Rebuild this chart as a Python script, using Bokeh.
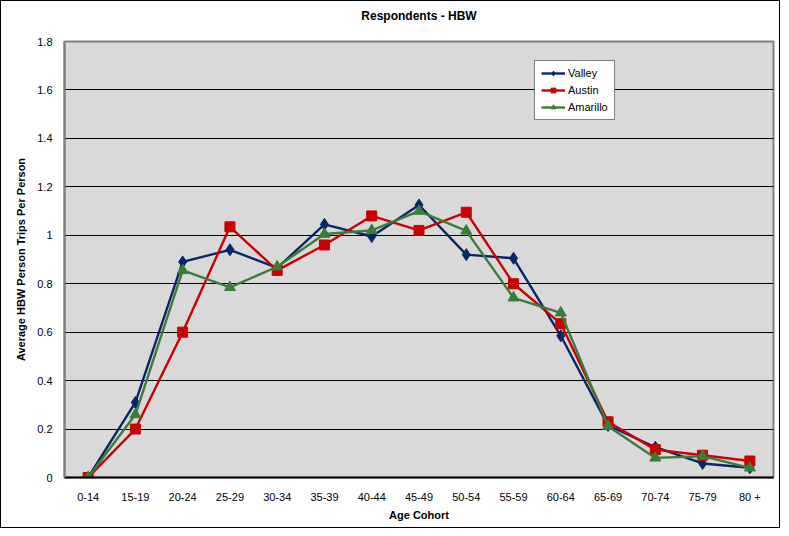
from bokeh.plotting import figure
from bokeh.embed import file_html
from bokeh.resources import INLINE
from bokeh.models import FixedTicker, Legend, LegendItem, CustomJSTickFormatter, Title

cohorts = ["0-14", "15-19", "20-24", "25-29", "30-34", "35-39", "40-44", "45-49",
           "50-54", "55-59", "60-64", "65-69", "70-74", "75-79", "80 +"]
valley = [0.0, 0.31, 0.89, 0.94, 0.865, 1.045, 0.995, 1.125, 0.92, 0.905, 0.585, 0.215, 0.125, 0.058, 0.04]
austin = [0.0, 0.20, 0.60, 1.035, 0.855, 0.96, 1.08, 1.02, 1.095, 0.80, 0.635, 0.23, 0.115, 0.092, 0.068]
amarillo = [0.0, 0.26, 0.855, 0.785, 0.87, 1.005, 1.02, 1.10, 1.018, 0.742, 0.68, 0.212, 0.081, 0.088, 0.04]
y_ticks = [0, 0.2, 0.4, 0.6, 0.8, 1.0, 1.2, 1.4, 1.6, 1.8]
title_text = "Respondents - HBW"

FONT = "Liberation Sans"
FW, FH = 709, 436

p = figure(x_range=cohorts, y_range=(0, 1.8), frame_width=FW, frame_height=FH,
           min_border_left=63, min_border_right=6, min_border_top=40, min_border_bottom=50,
           output_backend="svg", toolbar_location=None)
p.styles = {"border": "1px solid #000000", "box-sizing": "border-box"}

spacer = Title(text=" ", text_font=FONT, text_font_size="9px", align="center", standoff=2)
p.add_layout(spacer, "above")
main_title = Title(text=title_text, align="center", text_font=FONT, text_font_size="12px",
                   text_font_style="bold", text_color="#000000")
p.add_layout(main_title, "above")

p.background_fill_color = "#D9D9D9"
p.border_fill_color = "#FFFFFF"
p.outline_line_color = "#808080"
p.outline_line_width = 2

p.xgrid.grid_line_color = None
p.ygrid.grid_line_color = "#000000"
p.ygrid.grid_line_width = 1.2
p.ygrid.ticker = FixedTicker(ticks=y_ticks)

p.yaxis.ticker = FixedTicker(ticks=y_ticks)
p.yaxis.formatter = CustomJSTickFormatter(code="return tick.toFixed(1).replace(/\\.0$/, '');")
p.yaxis.axis_label = "Average HBW Person Trips Per Person"
p.xaxis.axis_label = "Age Cohort"
for ax in (p.xaxis, p.yaxis):
    ax.major_tick_line_color = None
    ax.minor_tick_line_color = None
    ax.major_label_text_font = FONT
    ax.major_label_text_font_size = "11px"
    ax.major_label_text_color = "#000000"
    ax.axis_label_text_font = FONT
    ax.axis_label_text_font_size = "11px"
    ax.axis_label_text_font_style = "bold"
    ax.axis_label_text_color = "#000000"
p.yaxis.axis_line_color = "#808080"
p.yaxis.axis_line_width = 2
p.xaxis.axis_line_color = "#000000"
p.xaxis.axis_line_width = 2
p.xaxis.major_label_standoff = 7
p.xaxis.axis_label_standoff = 3
p.yaxis.major_label_standoff = 6
p.yaxis.axis_label_standoff = 7

navy = "#082567"
red = "#CC0000"
green = "#3A7D3A"

l1 = p.line(cohorts, valley, line_color=navy, line_width=2.4)
m1 = p.scatter(cohorts, valley, marker="diamond", size=12, fill_color=navy, line_color=navy)
l2 = p.line(cohorts, austin, line_color=red, line_width=2.4)
m2 = p.scatter(cohorts, austin, marker="square", size=10, fill_color=red, line_color=red)
l3 = p.line(cohorts, amarillo, line_color=green, line_width=2.4)
m3 = p.scatter(cohorts, amarillo, marker="triangle", size=11, fill_color=green, line_color=green)

legend = Legend(items=[LegendItem(label="Valley", renderers=[l1, m1]),
                       LegendItem(label="Austin", renderers=[l2, m2]),
                       LegendItem(label="Amarillo", renderers=[l3, m3])],
                location=(470, 357))
legend.background_fill_color = "#FFFFFF"
legend.background_fill_alpha = 1
legend.border_line_color = "#000000"
legend.border_line_width = 1
legend.label_text_font = FONT
legend.label_text_font_size = "11px"
legend.label_text_color = "#000000"
legend.glyph_width = 24
legend.glyph_height = 12
legend.label_height = 12
legend.spacing = 5
legend.padding = 6
legend.margin = 0
legend.label_standoff = 3
p.add_layout(legend, "center")

open("out.html", "w").write(file_html(p, INLINE))
